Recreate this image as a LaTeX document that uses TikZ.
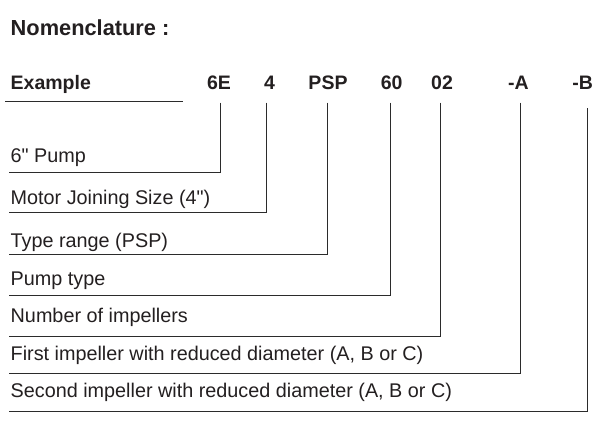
\documentclass[tikz,border=0pt]{standalone}
\usepackage{fontspec}
\setmainfont{Liberation Sans}[Ligatures=TeXOff]
\usetikzlibrary{positioning, calc}
\definecolor{ink}{HTML}{231F20}
\definecolor{rule}{HTML}{2B2B2B}
\tikzset{
  heading/.style = {
    anchor=base west,
    inner sep=0pt,
    text=ink,
    font=\fontsize{21.8}{26}\selectfont\bfseries,
  },
  code/.style = {
    anchor=base,
    inner sep=0pt,
    text=ink,
    font=\fontsize{19.5}{23}\selectfont\bfseries,
  },
  meaning/.style = {
    anchor=base west,
    inner sep=0pt,
    text=ink,
    font=\fontsize{19.8}{24}\selectfont,
  },
  lead/.style = {
    draw=rule,
    line width=0.9pt,
  },
}

\begin{document}
\begin{tikzpicture}[x=1pt, y=-1pt]
\useasboundingbox (0,0) rectangle (612,424);

\node (Title) [heading] at (10.5,35) {Nomenclature :};
\node (Example) [heading, font=\fontsize{19.5}{23}\selectfont\bfseries]
  at (10.5,89.3) {Example};
\draw[lead] ($(Example.base west)+(-5.5,12.4)$) -- ++(178.3,0);

% code parts
\node (Pump) [code] at (219,89.3) {6E};
\node (Motor) [code] at (269.5,89.3) {4};
\node (Range) [code] at (328,89.3) {PSP};
\node (Type) [code] at (391.7,89.3) {60};
\node (Impellers) [code] at (442,89.3) {02};
\node (First Cut) [code] at (518.5,89.3) {-A};
\node (Second Cut) [code] at (582.7,89.3) {-B};

% meanings
\node (Pump Text) [meaning] at (10.5,162.5) {6" Pump};
\node (Motor Text) [meaning] at (10.5,204.5) {Motor Joining Size (4")};
\node (Range Text) [meaning] at (10.5,247) {Type range (PSP)};
\node (Type Text) [meaning] at (10.5,285) {Pump type};
\node (Impellers Text) [meaning] at (10.5,322) {Number of impellers};
\node (First Cut Text) [meaning] at (10.5,360)
  {First impeller with reduced diameter (A, B or C)};
\node (Second Cut Text) [meaning] at (10.5,397)
  {Second impeller with reduced diameter (A, B or C)};

\draw[lead] ($(Pump.base)+(1.7,13.4)$)
  |- ($(Pump Text.base west)+(-1.5,9.7)$);
\draw[lead] ($(Motor.base)+(-3.5,13.4)$)
  |- ($(Motor Text.base west)+(-1.5,8.3)$);
\draw[lead] ($(Range.base)+(-0.7,13.4)$)
  |- ($(Range Text.base west)+(-1.5,7.3)$);
\draw[lead] ($(Type.base)+(-1,13.4)$)
  |- ($(Type Text.base west)+(-1.5,10.5)$);
\draw[lead] ($(Impellers.base)+(-1.3,13.4)$)
  |- ($(Impellers Text.base west)+(-1.5,14.2)$);
\draw[lead] ($(First Cut.base)+(1.5,13.4)$)
  |- ($(First Cut Text.base west)+(-1.5,13.5)$);
\draw[lead] ($(Second Cut.base)+(4.6,19)$)
  |- ($(Second Cut Text.base west)+(-1.5,14)$);

\end{tikzpicture}
\end{document}
